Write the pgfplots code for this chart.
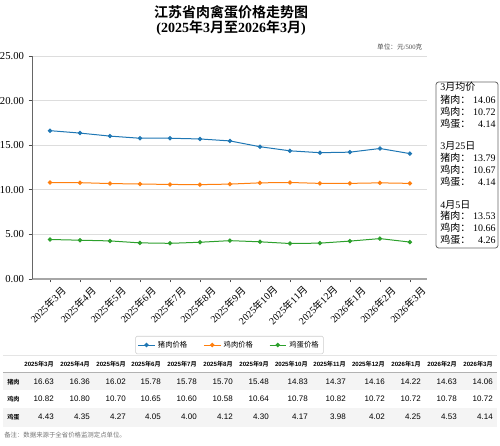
\documentclass[border=0pt]{standalone}
\usepackage{fontspec}
\setmainfont{Liberation Serif}
\setsansfont{Liberation Sans}
\newfontfamily\cjk{Noto Sans CJK SC}[BoldFont={Noto Sans CJK SC Bold}]
\usepackage{pgfplots}
\usepackage{pgfplotstable}
\pgfplotsset{compat=1.18}

\newcommand\zh[1]{{\cjk #1}}
\newcommand\ym[2]{#1\zh{年}#2\zh{月}}
\newcommand\fs[1]{\fontsize{#1}{#1}\selectfont}

\definecolor{cpork}{HTML}{1F77B4}
\definecolor{cchick}{HTML}{FF7F0E}
\definecolor{cegg}{HTML}{2CA02C}
\definecolor{gridgray}{HTML}{DDDDDD}
\definecolor{rowgray}{HTML}{F4F4F4}

% 价格，元/500克
\pgfplotstableread{
x pork  chicken egg
0  16.63 10.82 4.43
1  16.36 10.80 4.35
2  16.02 10.70 4.27
3  15.78 10.65 4.05
4  15.78 10.60 4.00
5  15.70 10.58 4.12
6  15.48 10.64 4.30
7  14.83 10.78 4.17
8  14.37 10.82 3.98
9  14.16 10.72 4.02
10 14.22 10.72 4.25
11 14.63 10.78 4.53
12 14.06 10.72 4.14
}\pricetable

\begin{document}
\begin{tikzpicture}[x=0.75pt,y=-0.75pt]
\useasboundingbox (0,0) rectangle (500,446);

% titles
\node[font=\cjk\bfseries\fs{10.5}] at (231,12) {江苏省肉禽蛋价格走势图};
\node[font=\bfseries\fs{10.5}] at (231,28) {(\ym{2025}{3}\zh{至}\ym{2026}{3})};
\node[anchor=east, font=\fs{5}, text=black!70] at (427,47) {\zh{单位：元}/500\zh{克}};

\begin{axis}[
  at={(24pt,-209.25pt)}, anchor=south west,
  scale only axis, width=296.25pt, height=167.25pt,
  xmin=-0.6, xmax=12.57, ymin=0, ymax=25,
  axis x line*=bottom, axis y line*=left,
  x axis line style={-, draw=black!35, line width=1.1pt},
  y axis line style={-, draw=black!60, line width=0.7pt},
  ytick={0,5,10,15,20,25},
  /pgf/number format/fixed, /pgf/number format/fixed zerofill,
  /pgf/number format/precision=2,
  /pgf/number format/assume math mode=true,
  ymajorgrids, grid style={draw=gridgray, line width=0.7pt},
  tick align=outside, major tick length=2.5pt,
  tick style={draw=black!70, line width=0.5pt},
  yticklabel style={font=\fs{8}},
  xtick={0,...,12},
  xticklabels={\ym{2025}{3},\ym{2025}{4},\ym{2025}{5},\ym{2025}{6},\ym{2025}{7},
    \ym{2025}{8},\ym{2025}{9},\ym{2025}{10},\ym{2025}{11},\ym{2025}{12},
    \ym{2026}{1},\ym{2026}{2},\ym{2026}{3}},
  xticklabel style={font=\fs{7.5}, yshift=-17pt, xshift=-1.5pt, rotate=45, anchor=center},
  every axis plot/.append style={line width=0.75pt, mark=*, mark size=1.25pt},
  legend style={at={(0.5,-0.296)}, anchor=center, legend columns=3,
    draw=black!20, rounded corners=1pt, font=\cjk\fs{5.5},
    inner sep=1.5pt,
    /tikz/every even column/.append style={column sep=10pt}},
  legend image code/.code={\draw[mark repeat=2, mark phase=2]
    plot coordinates {(0cm,0cm) (0.22cm,0cm) (0.44cm,0cm)};},
]
\addplot[color=cpork] table[x=x, y=pork] {\pricetable};
\addlegendentry{猪肉价格}
\addplot[color=cchick] table[x=x, y=chicken] {\pricetable};
\addlegendentry{鸡肉价格}
\addplot[color=cegg] table[x=x, y=egg] {\pricetable};
\addlegendentry{鸡蛋价格}
\end{axis}

% side box
\draw[black!60, line width=0.6pt, rounded corners=2pt] (436,82) rectangle (498,248);
\begin{scope}[every node/.style={font=\fs{7.5}, inner sep=0pt}]
\foreach \t/\y in {{3\zh{月均价}}/87, {3\zh{月}25\zh{日}}/146, {4\zh{月}5\zh{日}}/205}
  \node[anchor=west] at (440,\y) {\t};
\foreach \a/\b/\c/\y in {14.06/10.72/4.14/100, 13.79/10.67/4.14/158, 13.53/10.66/4.26/216} {
  \node[anchor=west] at (440,\y) {\zh{猪肉：}};
  \node[anchor=east] at (496,\y) {\a};
  \node[anchor=west] at (440,\y+12) {\zh{鸡肉：}};
  \node[anchor=east] at (496,\y+12) {\b};
  \node[anchor=west] at (440,\y+24) {\zh{鸡蛋：}};
  \node[anchor=east] at (496,\y+24) {\c};
}
\end{scope}

% data table
\fill[rowgray] (3,372) rectangle (497,390);
\fill[rowgray] (3,408) rectangle (497,427);
\draw[black!10, line width=0.5pt] (3,355) -- (497,355);
\draw[black!30, line width=0.6pt] (3,372) -- (497,372);
\begin{scope}[every node/.style={inner sep=0pt}]
\foreach \r/\yy/\m in {54/2025/3, 90/2025/4, 126/2025/5, 161/2025/6, 197/2025/7,
    233/2025/8, 269/2025/9, 308/2025/10, 346/2025/11, 385/2025/12,
    421/2026/1, 457/2026/2, 493/2026/3}
  \node[anchor=east, font=\sffamily\bfseries\fs{4.6}] at (\r,364) {\ym{\yy}{\m}};
\node[anchor=west, font=\cjk\bfseries\fs{4.6}] at (7,382) {猪肉};
\node[anchor=west, font=\cjk\bfseries\fs{4.6}] at (7,399) {鸡肉};
\node[anchor=west, font=\cjk\bfseries\fs{4.6}] at (7,417) {鸡蛋};
\foreach \r/\a/\b/\c in {54/16.63/10.82/4.43, 90/16.36/10.80/4.35, 126/16.02/10.70/4.27,
    161/15.78/10.65/4.05, 197/15.78/10.60/4.00, 233/15.70/10.58/4.12,
    269/15.48/10.64/4.30, 308/14.83/10.78/4.17, 346/14.37/10.82/3.98,
    385/14.16/10.72/4.02, 421/14.22/10.72/4.25, 457/14.63/10.78/4.53,
    493/14.06/10.72/4.14} {
  \node[anchor=east, font=\sffamily\fs{6}] at (\r,382) {\a};
  \node[anchor=east, font=\sffamily\fs{6}] at (\r,399) {\b};
  \node[anchor=east, font=\sffamily\fs{6}] at (\r,417) {\c};
}
\node[anchor=west, font=\cjk\fs{4.8}, text=black!55] at (4,435) {备注：数据来源于全省价格监测定点单位。};
\end{scope}
\end{tikzpicture}
\end{document}
